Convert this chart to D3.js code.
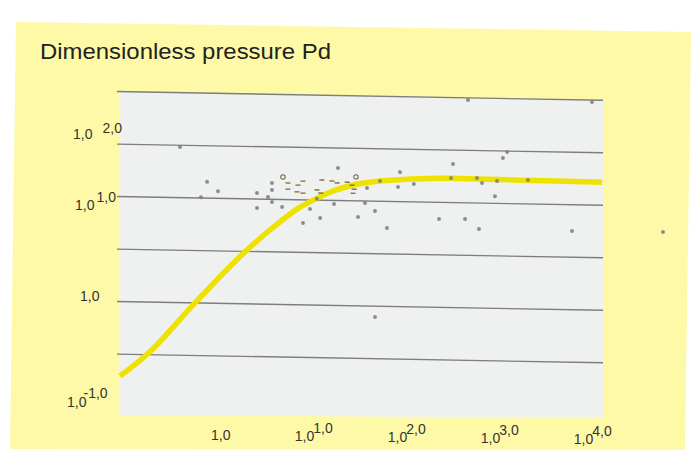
<!DOCTYPE html>
<html>
<head>
<meta charset="utf-8">
<script src="https://cdn.jsdelivr.net/npm/d3@7"></script>
<style>
  html, body { margin: 0; padding: 0; background: #fff; }
  svg { display: block; font-family: "Liberation Sans", Arial, sans-serif; }
</style>
</head>
<body>
<svg id="chart" width="694" height="457"></svg>
<script>
// Type curve: dimensionless time tD against dimensionless pressure Pd (log-log)
const curveT  = [0.0824, 0.165, 0.528, 1.91, 4.33, 7.11, 10.3, 16.1, 24.5, 55.5, 292, 1650, 12600];
const curvePd = [0.195, 0.324, 1.0, 3.26, 6.12, 8.51, 10.2, 12.3, 13.9, 15.7, 17.0, 16.8, 16.6];

// Measured points (grey dots)
const dotT  = [0.364, 0.711, 0.933, 0.612, 2.45, 2.45, 3.55, 3.55, 3.22, 3.55, 4.56, 18.2, 37.3, 51.5, 84.5,
               80.4, 119, 9.10, 11.7, 7.65, 16.5, 35.5, 45.5, 29.9, 61.2, 10.8, 314, 299, 569, 644, 933,
               2010, 887, 222, 423, 597, 5970, 455, 9800, 1080, 1200, 45.5, 56900];
const dotPd = [30.4, 14.3, 11.7, 10.2, 11.4, 8.22, 14.3, 12.3, 10.5, 9.44, 8.49, 20.4, 13.3, 15.6, 19.1,
               13.8, 14.8, 8.20, 6.76, 6.03, 9.25, 9.57, 8.07, 7.03, 5.58, 10.3, 23.3, 17.1, 17.3, 15.5, 16.3,
               16.9, 11.7, 6.93, 7.01, 5.66, 5.62, 95.5, 95.9, 27.1, 31.0, 0.789, 5.70];

// Early-time readings (dash marks) and two ring markers
const dashT  = [5.27, 5.27, 6.76, 7.65, 6.59, 7.65, 10.8, 11.9, 12.2, 15.7, 17.8, 22.8, 25.8, 27.1, 26.4];
const dashPd = [14.4, 12.6, 13.8, 15.1, 11.9, 11.6, 12.5, 11.7, 15.6, 15.3, 14.7, 15.0, 14.1, 12.9, 11.8];
const ringT  = [4.66, 28.4];
const ringPd = [16.4, 16.9];

// Axes
const gridValues  = [0.316, 1, 3.16, 10, 31.6, 100];
const xTickValues = [1, 10, 100, 1000, 10000];
const xTickExp    = ["", "1,0", "2,0", "3,0", "4,0"];
const yTickValues = [31.6, 10, 1, 0.1];
const yTickExp    = ["2,0", "1,0", "", "-1,0"];
const tickBase    = "1,0";
const titleText   = "Dimensionless pressure Pd";

const svg = d3.select("#chart");

// Yellow page
svg.append("polygon")
  .attr("points", [[16, 22], [691, 32], [685, 450], [10, 449]].map(p => p.join(",")).join(" "))
  .attr("fill", "#fef9a6");

// Title
svg.append("text")
  .attr("x", 40).attr("y", 59)
  .attr("font-size", 22)
  .attr("fill", "#222")
  .attr("textLength", 291)
  .attr("lengthAdjust", "spacingAndGlyphs")
  .text(titleText);

// Plot background
svg.append("polygon")
  .attr("points", [[120, 91.6], [603, 100.3], [603, 418], [120, 415]].map(p => p.join(",")).join(" "))
  .attr("fill", "#eff1f1");

const x = d3.scaleLog().domain([1, 1e4]).range([220.8, 592.8]);
const y = d3.scaleLog().domain([0.1, 100]).range([406.6, 91.6]);

// Plot content is slightly slanted
const slant = 1.03;
const plot = svg.append("g")
  .attr("transform", `translate(120,0) skewY(${slant}) translate(-120,0)`);

plot.append("g").selectAll("line")
  .data(gridValues)
  .join("line")
  .attr("x1", 117).attr("x2", 603)
  .attr("y1", d => y(d)).attr("y2", d => y(d))
  .attr("stroke", "#7d7d7d")
  .attr("stroke-width", 1.4);

const curveData = curveT.map((t, i) => [t, curvePd[i]]);
plot.append("path")
  .datum(curveData)
  .attr("fill", "none")
  .attr("stroke", "#eee200")
  .attr("stroke-width", 5.5)
  .attr("d", d3.line().x(d => x(d[0])).y(d => y(d[1])).curve(d3.curveMonotoneX));

plot.append("g").selectAll("circle")
  .data(dotT.map((t, i) => [t, dotPd[i]]))
  .join("circle")
  .attr("cx", d => x(d[0])).attr("cy", d => y(d[1]))
  .attr("r", 2)
  .attr("fill", "#7c7c7c")
  .attr("opacity", 0.85);

plot.append("g").selectAll("line")
  .data(dashT.map((t, i) => [t, dashPd[i]]))
  .join("line")
  .attr("x1", d => x(d[0]) - 2.5).attr("x2", d => x(d[0]) + 2.5)
  .attr("y1", d => y(d[1])).attr("y2", d => y(d[1]))
  .attr("stroke", "#7a6a2a")
  .attr("stroke-width", 1.3);

plot.append("g").selectAll("circle")
  .data(ringT.map((t, i) => [t, ringPd[i]]))
  .join("circle")
  .attr("cx", d => x(d[0])).attr("cy", d => y(d[1]))
  .attr("r", 2.2)
  .attr("fill", "none")
  .attr("stroke", "#6f6530")
  .attr("stroke-width", 1);

// X tick labels
const xLab = svg.append("g").attr("font-size", 14).attr("fill", "#333");
xTickValues.forEach((v, i) => {
  const px = x(v);
  const t = xLab.append("text")
    .attr("x", px)
    .attr("y", 440 + (px - 219) * 0.012)
    .attr("text-anchor", "middle");
  t.append("tspan").text(tickBase);
  if (xTickExp[i]) t.append("tspan").attr("dx", -1).attr("dy", -8).text(xTickExp[i]);
});

// Y tick labels (placement of each label beside its grid line)
const yLabelLayout = [
  { x: 73, dy: -5,   supDx: 10, supDy: -6 },
  { x: 75, dy: 13.4, supDx: 2,  supDy: -8 },
  { x: 80, dy: -0.6, supDx: 0,  supDy: 0 },
  { x: 67, dy: 0.4,  supDx: -3, supDy: -9 }
];
const yLab = svg.append("g").attr("font-size", 14).attr("fill", "#333");
yTickValues.forEach((v, i) => {
  const L = yLabelLayout[i];
  const t = yLab.append("text").attr("x", L.x).attr("y", y(v) + L.dy);
  t.append("tspan").text(tickBase);
  if (yTickExp[i]) t.append("tspan").attr("dx", L.supDx).attr("dy", L.supDy).text(yTickExp[i]);
});
</script>
</body>
</html>
